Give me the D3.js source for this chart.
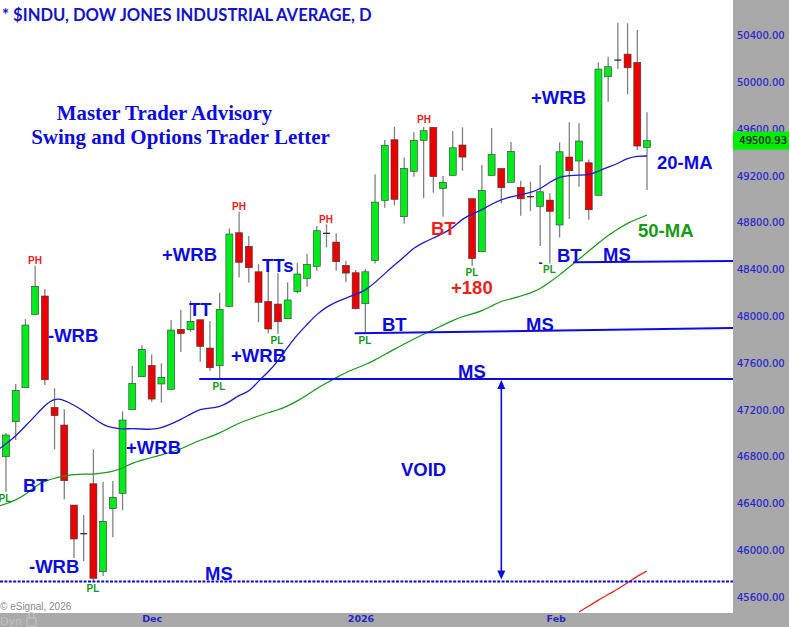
<!DOCTYPE html>
<html><head><meta charset="utf-8">
<script src="https://cdn.jsdelivr.net/npm/d3@7/dist/d3.min.js"></script>
<style>html,body{margin:0;padding:0;background:#fff;overflow:hidden}svg{display:block}</style>
</head><body><svg id="c" width="789" height="627"></svg>
<script>
const opens=[46799,47098,47389,48016,48173,47221,47070,46386,46141,46568,45816,46355,46486,47201,47483,47580,47421,47375,47888,47885,47970,47728,47577,48085,48714,48598,48380,48127,48104,47979,48210,48324,48427,48709,48634,48435,48372,48107,48475,48991,49509,48851,49239,49504,49615,49093,49204,49464,49005,48551,49204,49264,49145,49102,49022,48940,48993,48780,49361,49327,49312,49034,50047,50190,50241,50170,49444];
const highs=[47002,47421,47976,48432,48233,47384,47204,46386,46301,46862,46583,46591,47187,47574,47754,47674,47597,47968,48053,48133,47970,47959,48201,48751,48893,48686,48446,48455,48367,48290,48457,48532,48771,48786,48709,48475,48395,48404,49213,49506,49620,49358,49572,49617,49615,49199,49583,49615,49005,49293,49609,49264,49489,49158,49150,49293,49051,49485,49658,49649,49341,50170,50218,50509,50504,50447,49743];
const lows=[46500,46942,47386,48016,47412,46862,46435,45933,45908,45731,45779,46110,46343,47201,47483,47269,47261,47375,47694,47868,47611,47534,47469,48085,48333,48286,47948,47854,47848,47979,48196,48252,48389,48589,48389,48290,48059,47854,48452,48928,48948,48791,49193,49008,49056,48851,49204,49244,48429,48551,49204,48965,49145,48859,48899,48600,48452,48673,48831,49107,48825,49034,49834,50113,49897,49421,49079];
const closes=[46985,47367,47925,48256,47457,47150,46594,46096,46135,45760,46247,46452,47113,47427,47717,47292,47478,47882,47851,47957,47743,47560,48059,48703,48461,48415,48119,47891,47953,48139,48361,48444,48731,48703,48466,48369,48064,48380,48976,49461,48999,49264,49504,49586,49193,49145,49440,49361,48492,49076,49384,49099,49410,49004,49016,49064,48897,49406,49244,49498,48910,50113,50133,50184,50124,49455,49500.93];
// moving averages start one bar before the first visible candle
const ma20=[46848,46908,46976,47062,47147,47241,47301,47284,47241,47190,47130,47070,47044,47036,47040,47036,47032,47044,47079,47117,47164,47207,47215,47224,47267,47327,47352,47446,47523,47617,47737,47844,47929,48019,48079,48122,48156,48186,48220,48288,48365,48438,48506,48587,48630,48669,48707,48754,48835,48874,48908,48959,48998,49023,49036,49057,49087,49147,49194,49203,49207,49207,49241,49275,49305,49352,49370,49370];
const ma50=[46373,46395,46429,46472,46549,46591,46617,46634,46647,46651,46649,46660,46673,46702,46745,46771,46792,46814,46839,46865,46903,46942,46967,47002,47044,47087,47117,47147,47177,47198,47233,47275,47327,47382,47429,47476,47519,47553,47587,47626,47673,47720,47762,47805,47848,47882,47925,47963,47998,48019,48045,48087,48130,48147,48173,48198,48233,48292,48352,48421,48489,48557,48626,48694,48745,48797,48831,48865];
const ma200=[45472,45523,45574,45621,45668,45720,45779,45822];
const ma200Start=59;
const priceTicks=[50400,50000,49600,49200,48800,48400,48000,47600,47200,46800,46400,46000,45600];
const timeLabels=["Dec","2026","Feb"];
const timeIndex=[15,36.5,56.6];
const lastPrice=49500.93;
const levelStartBar=[19.9,35.9,58.4];
const levelStartPrice=[47463,47854,48461];
const levelEndPrice=[47463,47899,48472];
const voidLevel=45732;

const W=789,H=627,plotW=733,plotH=613;
const BLUE="#0c0ce2",AXB="#2626cc",GREEN="#00ea1c",RED="#ea0000";
const x=d3.scaleLinear().domain([0,66]).range([6,647]);
const y=d3.scaleLinear().domain([45600,50400]).range([597,35.5]);
const svg=d3.select("#c");
svg.append("rect").attr("width",W).attr("height",H).attr("fill","#a9a9a9");
svg.append("rect").attr("width",plotW).attr("height",plotH).attr("fill","#fff");
svg.append("clipPath").attr("id","pc").append("rect").attr("width",plotW).attr("height",plotH);
const g=svg.append("g").attr("clip-path","url(#pc)");

// candles
const bars=d3.range(opens.length);
g.append("g").selectAll("line").data(bars).join("line")
 .attr("x1",i=>x(i)).attr("x2",i=>x(i)).attr("y1",i=>y(highs[i])).attr("y2",i=>y(lows[i]))
 .attr("stroke","#808080").attr("stroke-width",1.3);
const doji=i=>Math.abs(opens[i]-closes[i])<10;
g.append("g").selectAll("rect").data(bars.filter(i=>!doji(i))).join("rect")
 .attr("x",i=>x(i)-3.5).attr("width",7)
 .attr("y",i=>y(Math.max(opens[i],closes[i])))
 .attr("height",i=>Math.abs(y(opens[i])-y(closes[i])))
 .attr("fill",i=>closes[i]>opens[i]?GREEN:RED)
 .attr("stroke","#3a3a3a").attr("stroke-width",0.6);
g.append("g").selectAll("line").data(bars.filter(doji)).join("line")
 .attr("x1",i=>x(i)-3.5).attr("x2",i=>x(i)+3.5).attr("y1",i=>y(opens[i])).attr("y2",i=>y(opens[i]))
 .attr("stroke","#222").attr("stroke-width",1.2);

// moving averages
const mk=(off)=>d3.line().x((d,i)=>x(i+off)).y(d=>y(d)).curve(d3.curveBasis);
g.append("path").attr("d",mk(-1)(ma20)).attr("fill","none").attr("stroke","#1a1ad2").attr("stroke-width",1.3);
g.append("path").attr("d",mk(-1)(ma50)).attr("fill","none").attr("stroke","#169a16").attr("stroke-width",1.2);
g.append("path").attr("d",mk(ma200Start)(ma200)).attr("fill","none").attr("stroke","#ee2020").attr("stroke-width",1.2);

// support levels
g.append("g").selectAll("line").data(levelStartBar).join("line")
 .attr("x1",d=>x(d)).attr("x2",plotW)
 .attr("y1",(d,i)=>y(levelStartPrice[i])).attr("y2",(d,i)=>y(levelEndPrice[i]))
 .attr("stroke",BLUE).attr("stroke-width",2);
g.append("line").attr("x1",0).attr("x2",plotW).attr("y1",y(voidLevel)).attr("y2",y(voidLevel))
 .attr("stroke",BLUE).attr("stroke-width",2).attr("stroke-dasharray","3,1.4");

// void arrow
const ax=x(51),ay1=y(levelStartPrice[0])+1,ay2=y(voidLevel)-2;
g.append("line").attr("x1",ax).attr("x2",ax).attr("y1",ay1+3).attr("y2",ay2-3).attr("stroke",BLUE).attr("stroke-width",1.6);
g.append("path").attr("fill",BLUE).attr("d",`M${ax},${ay1}l-4,9h8zM${ax},${ay2}l-4,-9h8z`);

// axes
const yAxis=d3.axisRight(y).tickValues(priceTicks).tickSize(0).tickPadding(0).tickFormat(d3.format(".2f"));
const ya=svg.append("g").attr("transform",`translate(737,0)`).call(yAxis);
ya.select(".domain").remove();
ya.selectAll("text").attr("font-family","DejaVu Sans").attr("font-size",10).attr("fill",AXB).attr("stroke",AXB).attr("stroke-width",0.2);
const xAxis=d3.axisBottom(x).tickValues(timeIndex).tickSize(0).tickPadding(0).tickFormat((d,i)=>timeLabels[i]);
const xa=svg.append("g").attr("transform",`translate(0,615)`).call(xAxis);
xa.select(".domain").remove();
xa.selectAll("text").attr("font-family","DejaVu Sans").attr("font-size",9.5).attr("font-weight","bold").attr("fill",AXB);

// last price tag
const ty=y(lastPrice);
svg.append("rect").attr("x",plotW).attr("y",ty-9).attr("width",W-plotW).attr("height",18).attr("fill","#00ee00");
svg.append("text").attr("x",787).attr("y",ty+3.8).attr("text-anchor","end").attr("font-family","DejaVu Sans").attr("font-size",10).attr("fill","#111").attr("stroke","#111").attr("stroke-width",.2).text(d3.format(".2f")(lastPrice));

// text annotations
const A=[
 ["-WRB",48,342,BLUE],["+WRB",162,261,BLUE],["+WRB",126,454,BLUE],["BT",23,492,BLUE],["-WRB",29,573,BLUE],
 ["MS",205,580,BLUE],["TT",189,316,BLUE],["TTs",262,272,BLUE],["+WRB",231,362,BLUE],["BT",382,331,BLUE],
 ["MS",526,331,BLUE],["MS",458,378,BLUE],["BT",431,235,"#ee2020"],["+180",451,294,"#ee2020"],["BT",557,262,BLUE],
 ["MS",603,261,BLUE],["50-MA",638,237,"#169a16"],["20-MA",657,169,BLUE],["+WRB",531,104,BLUE],["VOID",401,476,BLUE]
];
svg.append("g").selectAll("text").data(A).join("text")
 .attr("x",d=>d[1]).attr("y",d=>d[2]).attr("fill",d=>d[3]).text(d=>d[0])
 .attr("font-family","Liberation Sans").attr("font-weight","bold").attr("font-size",18.5);
svg.append("text").attr("x",538.5).attr("y",267).attr("fill",BLUE).text("-")
 .attr("font-family","Liberation Sans").attr("font-weight","bold").attr("font-size",12);
const PH=[[35,264],[239,210],[326,223],[424,123]];
const PL=[[5,502],[93,592],[219,390],[277,344],[365,344],[472,276],[549.5,273]];
svg.append("g").selectAll("text").data(PH).join("text").attr("x",d=>d[0]).attr("y",d=>d[1]).text("PH")
 .attr("text-anchor","middle").attr("font-family","Liberation Sans").attr("font-weight","bold").attr("font-size",10).attr("fill","#ee2020");
svg.append("g").selectAll("text").data(PL).join("text").attr("x",d=>d[0]).attr("y",d=>d[1]).text("PL")
 .attr("text-anchor","middle").attr("font-family","Liberation Sans").attr("font-weight","bold").attr("font-size",10).attr("fill","#169a16");

svg.append("text").attr("x",2).attr("y",21).attr("font-family","Lato").attr("font-weight","bold").attr("font-size",16.6).attr("fill","#1414cc").text("* $INDU, DOW JONES INDUSTRIAL AVERAGE, D");
svg.append("text").attr("x",164.5).attr("y",120).attr("text-anchor","middle").attr("font-family","Liberation Serif").attr("font-weight","bold").attr("font-size",20.9).attr("fill",BLUE).text("Master Trader Advisory");
svg.append("text").attr("x",180.5).attr("y",143.5).attr("text-anchor","middle").attr("font-family","Liberation Serif").attr("font-weight","bold").attr("font-size",21).attr("fill",BLUE).text("Swing and Options Trader Letter");
svg.append("text").attr("x",0).attr("y",610).attr("font-family","Liberation Sans").attr("font-size",10).attr("fill","#8a8a8a").text("© eSignal, 2026");
svg.append("text").attr("x",0).attr("y",625).attr("font-family","DejaVu Sans").attr("font-size",11).attr("fill","#c2c2c2").text("Dyn");
svg.append("path").attr("fill","none").attr("stroke","#c2c2c2").attr("stroke-width",1.2).attr("d","M27,618h9v8h-9zM29,618v-3a2.5,2.5 0 0 1 5,0v3");
</script></body></html>
